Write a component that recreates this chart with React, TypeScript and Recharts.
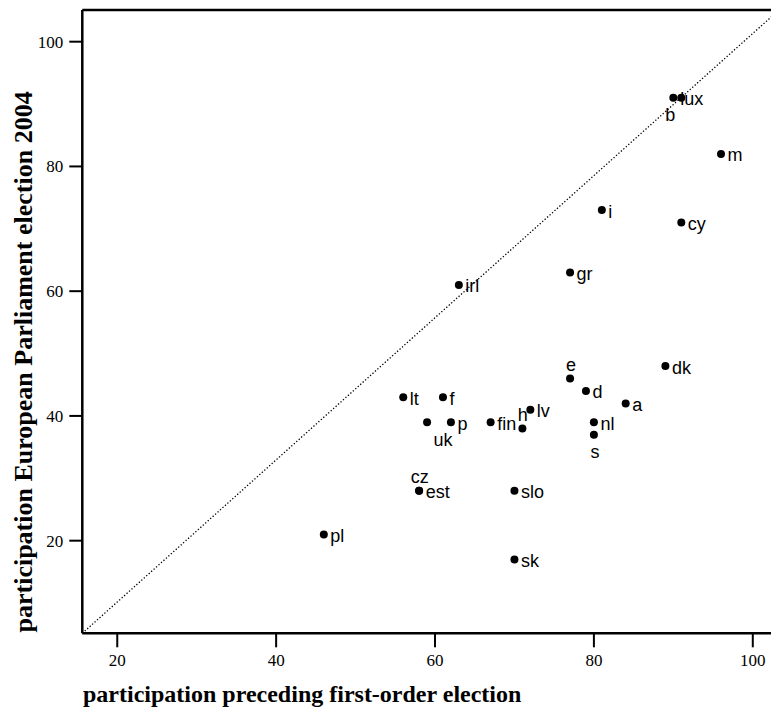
import React from "react";
import { ScatterChart, Scatter, XAxis, YAxis, ReferenceLine, Label } from "recharts";

const countries = ["b", "lux", "m", "i", "cy", "gr", "irl", "dk", "e", "d", "a", "lt", "f", "uk", "p", "fin", "h", "lv", "nl", "s", "cz", "est", "slo", "sk", "pl"];
const precedingTurnout = [90, 91, 96, 81, 91, 77, 63, 89, 77, 79, 84, 56, 61, 59, 62, 67, 71, 72, 80, 80, 58, 58, 70, 70, 46];
const ep2004Turnout = [91, 91, 82, 73, 71, 63, 61, 48, 46, 44, 42, 43, 43, 39, 39, 39, 38, 41, 39, 37, 28, 28, 28, 17, 21];
const axisTicks = [20, 40, 60, 80, 100];

const X_MIN = 15.6;
const X_MAX = 103.3;
const Y_MIN = 5.15;
const Y_MAX = 105.08;

const data = countries.map((name, i) => ({ name, x: precedingTurnout[i], y: ep2004Turnout[i] }));

// label placement (dx to text start, dy to baseline) relative to the dot
const defaultOffset: [number, number] = [6.5, 7.5];
const labelOffsets: Record<string, [number, number]> = {
  lux: [-1, 7.5],
  b: [-8, 23],
  e: [-4, -7.7],
  s: [-3.5, 23],
  uk: [6.3, 24],
  h: [-4.7, -7.7],
  cz: [-8.3, -8],
};

const DotWithLabel = (props: any) => {
  const { cx, cy, payload } = props;
  const [dx, dy] = labelOffsets[payload.name] || defaultOffset;
  return (
    <g>
      <circle cx={cx} cy={cy} r={4} fill="#000" />
      <text
        x={cx + dx}
        y={cy + dy}
        fontFamily="'Liberation Sans', Arial, sans-serif"
        fontSize={18}
        fill="#000"
      >
        {payload.name}
      </text>
    </g>
  );
};

const tickStyle = { fontFamily: "'Liberation Serif', 'Times New Roman', serif", fontSize: 17, fill: "#000" };

const XTitle = () => (
  <text
    x={75}
    y={693.5}
    fontFamily="'Liberation Serif', 'Times New Roman', serif"
    fontWeight="bold"
    fontSize={24}
    fill="#000"
  >
    participation preceding first-order election
  </text>
);

const YTitle = () => (
  <text
    x={0}
    y={0}
    transform="translate(24, 624.5) rotate(-90)"
    fontFamily="'Liberation Serif', 'Times New Roman', serif"
    fontWeight="bold"
    fontSize={26}
    fill="#000"
  >
    participation European Parliament election 2004
  </text>
);

export default function App() {
  return (
    <div style={{ width: 771, height: 700 }}>
      <ScatterChart width={771} height={700} margin={{ top: 2, right: 0, bottom: 0, left: 0 }}>
        <XAxis
          type="number"
          dataKey="x"
          domain={[X_MIN, X_MAX]}
          allowDataOverflow
          ticks={axisTicks}
          height={74.7}
          tickSize={14}
          tickMargin={7}
          tick={tickStyle}
          axisLine={{ stroke: "#000", strokeWidth: 2.5 }}
          tickLine={{ stroke: "#000", strokeWidth: 2 }}
        >
          <Label content={<XTitle />} />
        </XAxis>
        <YAxis
          type="number"
          dataKey="y"
          domain={[Y_MIN, Y_MAX]}
          allowDataOverflow
          ticks={axisTicks}
          width={74.3}
          tickSize={13}
          tickMargin={6}
          tick={tickStyle}
          axisLine={{ stroke: "#000", strokeWidth: 2.5 }}
          tickLine={{ stroke: "#000", strokeWidth: 2 }}
        >
          <Label content={<YTitle />} />
        </YAxis>
        <ReferenceLine y={Y_MAX} stroke="#000" strokeWidth={2.5} ifOverflow="visible" />
        <ReferenceLine
          segment={[{ x: X_MIN, y: Y_MIN }, { x: X_MAX, y: Y_MAX }]}
          stroke="#000"
          strokeWidth={1.3}
          strokeDasharray="1.3 2"
          ifOverflow="visible"
        />
        <Scatter data={data} shape={<DotWithLabel />} isAnimationActive={false} />
      </ScatterChart>
    </div>
  );
}
